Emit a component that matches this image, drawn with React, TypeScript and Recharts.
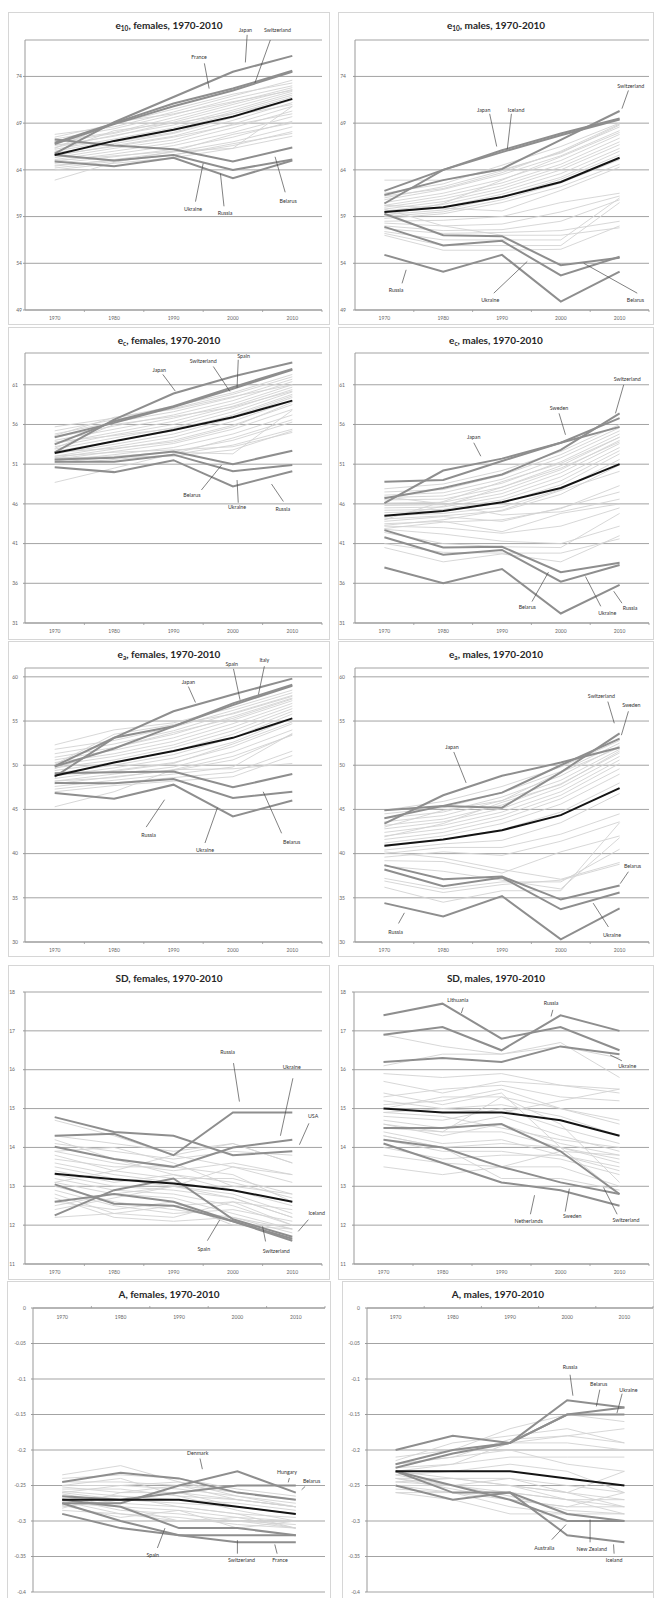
import React from "react";
import {
  LineChart,
  Line,
  XAxis,
  YAxis,
  CartesianGrid,
  ReferenceLine,
  ReferenceDot,
} from "recharts";

const FONT = "Lato, 'Open Sans', sans-serif";

const years = [1970, 1980, 1990, 2000, 2010];

// ---------- e10, females
const e10FTicks = [49, 54, 59, 64, 69, 74];
const e10FMean = [65.6, 67.1, 68.3, 69.7, 71.6];
const e10FMarked = [
  { name: "Japan", values: [65.75, 69.1, 71.8, 74.5, 76.2] },
  { name: "Switzerland", values: [66.9, 69.0, 71.1, 72.7, 74.6] },
  { name: "France", values: [66.75, 68.9, 70.8, 72.5, 74.5] },
  { name: "Belarus", values: [67.25, 66.6, 66.2, 64.9, 66.4] },
  { name: "Ukraine", values: [65.6, 65.0, 65.6, 64.0, 65.1] },
  { name: "Russia", values: [64.9, 64.4, 65.3, 63.1, 65.0] },
];
const e10FOthers = [
  [67.8, 68.6, 70.2, 71.9, 73.6],
  [67.5, 68.9, 70.5, 72.1, 73.3],
  [67.3, 68.4, 69.9, 71.6, 73.0],
  [67.1, 68.0, 69.6, 71.2, 72.8],
  [66.9, 67.9, 69.3, 71.0, 72.6],
  [66.6, 67.6, 69.1, 70.7, 72.4],
  [66.4, 67.7, 68.8, 70.4, 72.2],
  [66.2, 67.3, 68.5, 70.2, 72.0],
  [66.0, 67.1, 68.3, 70.0, 71.8],
  [65.8, 66.8, 67.9, 69.6, 71.5],
  [65.5, 66.6, 67.6, 69.3, 71.2],
  [65.3, 66.3, 67.2, 68.9, 70.8],
  [65.1, 66.0, 66.9, 68.5, 70.3],
  [64.9, 65.7, 66.6, 68.0, 69.7],
  [64.7, 65.4, 66.2, 67.5, 69.2],
  [64.4, 65.1, 65.9, 67.0, 68.6],
  [64.2, 64.9, 65.6, 66.6, 68.1],
  [64.0, 64.7, 65.3, 66.3, 67.6],
  [62.9, 64.8, 66.0, 67.8, 69.0],
  [65.9, 68.2, 69.0, 70.0, 71.5],
  [66.3, 69.1, 70.0, 71.3, 72.5],
  [65.0, 65.5, 66.0, 66.3, 70.8],
  [64.5, 65.0, 65.6, 66.8, 67.9],
  [66.7, 67.0, 68.0, 69.8, 71.0],
  [65.6, 66.5, 67.5, 68.8, 70.0],
];
const e10FNotes = [
  { text: "France", at: [1994.3, 76.1], from: [1995.2, 75.4], to: [1996.0, 72.7] },
  { text: "Japan", at: [2002.1, 79.0], from: [2002.4, 78.45], to: [2002.1, 75.5] },
  { text: "Switzerland", at: [2007.5, 79.0], from: [2006.3, 77.9], to: [2003.7, 73.3] },
  { text: "Ukraine", at: [1993.3, 59.75], from: [1993.7, 60.6], to: [1995.0, 64.7] },
  { text: "Russia", at: [1998.7, 59.4], from: [1998.5, 60.1], to: [1997.9, 63.6] },
  { text: "Belarus", at: [2009.3, 60.65], from: [2008.8, 61.6], to: [2007.1, 65.4] },
];

// ---------- e10, males
const e10MTicks = [49, 54, 59, 64, 69, 74];
const e10MMean = [59.5, 60.0, 61.1, 62.7, 65.3];
const e10MMarked = [
  { name: "Japan", values: [61.75, 64.0, 66.1, 67.9, 69.5] },
  { name: "Switzerland", values: [61.3, 62.9, 64.1, 67.2, 70.3] },
  { name: "Iceland", values: [60.4, 64.0, 65.9, 67.7, 69.4] },
  { name: "Belarus", values: [59.3, 57.0, 56.9, 53.8, 54.6] },
  { name: "Ukraine", values: [57.9, 55.9, 56.4, 52.7, 54.7] },
  { name: "Russia", values: [54.9, 53.1, 54.9, 49.9, 53.1] },
];
const e10MOthers = [
  [62.9, 62.9, 64.0, 65.8, 68.8],
  [61.0, 62.2, 63.9, 65.9, 68.6],
  [60.8, 61.9, 63.5, 65.5, 68.2],
  [60.5, 61.5, 63.0, 65.0, 67.8],
  [60.2, 61.2, 62.6, 64.6, 67.4],
  [60.0, 60.9, 62.3, 64.3, 67.0],
  [59.8, 60.6, 62.0, 64.0, 66.7],
  [59.6, 60.3, 61.7, 63.6, 66.3],
  [59.4, 60.0, 61.4, 63.2, 66.0],
  [59.2, 59.7, 61.1, 63.0, 65.6],
  [59.0, 59.5, 60.8, 62.6, 65.1],
  [58.8, 59.3, 60.5, 62.2, 64.6],
  [60.2, 59.9, 59.6, 61.8, 64.3],
  [58.5, 58.6, 59.0, 60.5, 61.5],
  [58.3, 58.0, 58.2, 59.5, 61.2],
  [58.0, 57.5, 57.6, 58.5, 60.8],
  [57.7, 57.2, 57.3, 57.5, 58.5],
  [57.4, 56.5, 56.5, 56.5, 61.0],
  [57.2, 55.9, 55.9, 55.9, 60.5],
  [57.0, 55.4, 55.4, 55.5, 58.0],
  [59.8, 58.0, 57.0, 57.0, 57.8],
  [61.5, 62.5, 64.5, 66.5, 69.0],
  [61.2, 62.0, 63.7, 66.0, 68.9],
  [59.1, 60.4, 62.9, 65.4, 68.0],
];
const e10MNotes = [
  { text: "Switzerland", at: [2011.9, 73.0], from: [2011.5, 72.5], to: [2010.4, 70.55] },
  { text: "Japan", at: [1986.9, 70.4], from: [1987.9, 70.0], to: [1989.1, 66.5] },
  { text: "Iceland", at: [1992.4, 70.4], from: [1991.6, 70.0], to: [1990.9, 66.2] },
  { text: "Russia", at: [1972.0, 51.1], from: [1973.0, 51.85], to: [1973.7, 53.3] },
  { text: "Ukraine", at: [1988.0, 50.1], from: [1988.6, 50.8], to: [1994.3, 54.2] },
  { text: "Belarus", at: [2012.7, 50.1], from: [2013.0, 50.8], to: [2003.9, 54.0] },
];

// ---------- ec, females
const ecFTicks = [31, 36, 41, 46, 51, 56, 61];
const ecFMean = [52.4, 53.9, 55.3, 56.9, 59.0];
const ecFMarked = [
  { name: "Japan", values: [52.5, 56.6, 59.9, 62.05, 63.8] },
  { name: "Switzerland", values: [54.4, 56.2, 58.2, 60.5, 62.9] },
  { name: "Spain", values: [53.5, 56.4, 58.3, 60.7, 63.0] },
  { name: "Belarus", values: [51.6, 51.8, 52.6, 51.0, 52.7] },
  { name: "Ukraine", values: [51.3, 51.3, 52.2, 50.1, 50.9] },
  { name: "Russia", values: [50.6, 50.0, 51.5, 48.2, 50.1] },
];
const ecFOthers = [
  [55.7, 56.8, 58.3, 60.0, 62.3],
  [55.2, 56.6, 58.0, 59.8, 62.0],
  [54.8, 56.3, 57.6, 59.4, 61.7],
  [54.4, 55.8, 57.2, 59.0, 61.4],
  [54.0, 55.4, 56.8, 58.6, 61.0],
  [53.6, 55.0, 56.4, 58.3, 60.7],
  [53.2, 54.7, 56.0, 58.0, 60.4],
  [52.9, 54.3, 55.6, 57.6, 60.1],
  [52.6, 53.9, 55.2, 57.2, 59.8],
  [52.3, 53.5, 54.8, 56.8, 59.4],
  [52.0, 53.2, 54.4, 56.4, 59.0],
  [51.8, 52.9, 54.0, 55.9, 58.5],
  [51.6, 52.6, 53.6, 55.4, 57.9],
  [51.4, 52.2, 53.1, 54.8, 57.2],
  [51.2, 51.9, 52.6, 54.0, 56.3],
  [51.0, 51.6, 52.2, 53.4, 55.4],
  [51.5, 52.0, 52.5, 52.3, 57.8],
  [52.0, 52.5, 52.8, 53.2, 55.0],
  [48.7, 50.5, 52.3, 54.3, 56.6],
  [53.0, 56.0, 57.0, 58.2, 60.2],
  [52.5, 53.0, 53.8, 55.7, 58.8],
  [51.8, 51.9, 52.0, 52.8, 55.2],
  [53.8, 54.6, 55.5, 57.0, 59.6],
  [54.6, 56.9, 57.9, 59.5, 61.0],
];
const ecFNotes = [
  { text: "Japan", at: [1987.6, 62.9], from: [1988.2, 62.3], to: [1990.3, 60.2] },
  { text: "Switzerland", at: [1995.0, 64.0], from: [1996.7, 63.3], to: [1999.5, 60.15] },
  { text: "Spain", at: [2001.8, 64.65], from: [2000.9, 64.15], to: [2000.7, 60.6] },
  { text: "Belarus", at: [1993.1, 47.1], from: [1994.7, 47.75], to: [1998.1, 50.9] },
  { text: "Ukraine", at: [2000.7, 45.6], from: [2000.9, 46.15], to: [2000.7, 49.0] },
  { text: "Russia", at: [2008.4, 45.4], from: [2008.5, 46.3], to: [2006.5, 48.5] },
];

// ---------- ec, males
const ecMTicks = [31, 36, 41, 46, 51, 56, 61];
const ecMMean = [44.5, 45.1, 46.2, 48.0, 51.0];
const ecMMarked = [
  { name: "Japan", values: [46.1, 50.2, 51.7, 53.7, 56.8] },
  { name: "Sweden", values: [48.8, 49.0, 51.4, 53.7, 55.7] },
  { name: "Switzerland", values: [46.7, 48.0, 49.7, 52.8, 57.4] },
  { name: "Belarus", values: [42.7, 40.5, 40.6, 37.4, 38.6] },
  { name: "Ukraine", values: [41.8, 39.6, 40.2, 36.2, 38.3] },
  { name: "Russia", values: [38.0, 36.0, 37.8, 32.2, 35.8] },
];
const ecMOthers = [
  [47.9, 48.5, 50.2, 52.6, 56.0],
  [47.5, 47.8, 49.6, 52.2, 55.6],
  [47.1, 47.4, 49.1, 51.8, 55.2],
  [46.8, 47.0, 48.6, 51.3, 54.8],
  [46.5, 46.6, 48.1, 50.8, 54.4],
  [46.1, 46.2, 47.7, 50.3, 54.0],
  [45.8, 45.9, 47.3, 49.9, 53.6],
  [45.5, 45.6, 46.9, 49.4, 53.1],
  [45.2, 45.3, 46.5, 48.9, 52.7],
  [44.9, 45.1, 46.1, 48.4, 52.3],
  [44.5, 44.8, 45.6, 47.8, 51.6],
  [44.1, 44.5, 45.1, 47.2, 50.9],
  [43.8, 44.4, 43.8, 45.5, 47.5],
  [43.5, 43.8, 42.5, 44.8, 46.0],
  [43.2, 43.0, 42.3, 43.2, 45.5],
  [42.8, 42.2, 41.3, 41.0, 43.2],
  [42.4, 41.0, 40.6, 40.5, 44.8],
  [41.0, 39.9, 39.8, 39.8, 41.6],
  [40.5, 38.7, 39.7, 38.7, 42.0],
  [44.3, 45.7, 48.1, 50.5, 53.8],
  [44.0, 46.3, 48.8, 51.1, 54.4],
  [46.9, 46.0, 44.6, 45.0, 46.6],
  [43.3, 44.0, 45.2, 47.7, 50.1],
  [42.9, 43.7, 44.0, 45.4, 48.3],
];
const ecMNotes = [
  { text: "Switzerland", at: [2011.3, 61.7], from: [2010.7, 61.0], to: [2009.3, 57.4] },
  { text: "Sweden", at: [1999.7, 58.05], from: [1999.7, 57.4], to: [2000.8, 54.7] },
  { text: "Japan", at: [1985.2, 54.4], from: [1985.2, 53.7], to: [1986.4, 52.0] },
  { text: "Belarus", at: [1994.3, 33.0], from: [1995.1, 33.7], to: [1997.9, 37.4] },
  { text: "Ukraine", at: [2007.9, 32.3], from: [2006.8, 33.1], to: [2004.2, 36.85] },
  { text: "Russia", at: [2011.8, 32.9], from: [2010.4, 33.5], to: [2009.0, 35.0] },
];

// ---------- ea, females
const eaFTicks = [30, 35, 40, 45, 50, 55, 60];
const eaFMean = [48.8, 50.3, 51.6, 53.1, 55.3];
const eaFMarked = [
  { name: "Japan", values: [48.7, 53.1, 56.1, 58.0, 59.8] },
  { name: "Spain", values: [49.85, 51.9, 54.4, 56.8, 59.0] },
  { name: "Italy", values: [49.9, 53.1, 54.4, 57.0, 59.1] },
  { name: "Belarus", values: [49.1, 49.2, 49.3, 47.5, 49.0] },
  { name: "Ukraine", values: [48.0, 47.95, 48.45, 46.3, 47.0] },
  { name: "Russia", values: [46.85, 46.2, 47.8, 44.2, 46.0] },
];
const eaFOthers = [
  [52.3, 54.0, 54.8, 56.5, 58.5],
  [51.8, 52.8, 54.3, 56.2, 58.2],
  [51.3, 52.4, 53.9, 55.9, 57.9],
  [50.9, 52.0, 53.5, 55.5, 57.6],
  [50.6, 51.7, 53.1, 55.1, 57.3],
  [50.3, 51.3, 52.7, 54.7, 57.0],
  [50.0, 51.0, 52.3, 54.3, 56.7],
  [49.7, 50.6, 52.0, 53.9, 56.4],
  [49.4, 50.3, 51.6, 53.5, 56.1],
  [49.1, 50.0, 51.2, 53.1, 55.8],
  [48.8, 49.7, 50.8, 52.6, 55.3],
  [48.5, 49.4, 50.3, 52.1, 54.7],
  [48.2, 49.0, 49.8, 51.5, 54.0],
  [47.9, 48.7, 49.4, 50.6, 53.5],
  [47.6, 48.3, 49.0, 49.8, 53.6],
  [47.3, 48.0, 48.6, 49.2, 51.6],
  [47.0, 47.7, 48.2, 48.7, 51.1],
  [45.3, 47.0, 49.5, 51.0, 53.4],
  [48.2, 48.6, 49.5, 49.6, 50.2],
  [49.6, 52.0, 53.7, 55.3, 57.5],
  [48.9, 49.3, 50.2, 52.4, 54.9],
  [50.1, 53.5, 54.6, 55.8, 57.8],
];
const eaFNotes = [
  { text: "Japan", at: [1992.5, 59.4], from: [1992.5, 58.9], to: [1993.7, 57.1] },
  { text: "Spain", at: [1999.8, 61.4], from: [2000.1, 60.9], to: [2001.2, 57.4] },
  { text: "Italy", at: [2005.3, 61.85], from: [2005.3, 61.2], to: [2004.3, 58.0] },
  { text: "Russia", at: [1985.8, 42.1], from: [1985.4, 43.0], to: [1988.5, 46.1] },
  { text: "Ukraine", at: [1995.3, 40.4], from: [1995.3, 41.2], to: [1997.4, 45.2] },
  { text: "Belarus", at: [2009.9, 41.35], from: [2008.2, 42.3], to: [2005.1, 47.0] },
];

// ---------- ea, males
const eaMTicks = [30, 35, 40, 45, 50, 55, 60];
const eaMMean = [40.9, 41.6, 42.65, 44.35, 47.4];
const eaMMarked = [
  { name: "Japan", values: [43.4, 46.6, 48.8, 50.3, 52.0] },
  { name: "Sweden", values: [44.0, 45.4, 46.9, 50.0, 53.0] },
  { name: "Switzerland", values: [44.9, 45.4, 45.2, 49.2, 53.6] },
  { name: "Belarus", values: [38.7, 37.1, 37.4, 34.8, 36.4] },
  { name: "Ukraine", values: [38.2, 36.3, 37.3, 33.7, 35.6] },
  { name: "Russia", values: [34.4, 32.9, 35.2, 30.3, 33.8] },
];
const eaMOthers = [
  [44.9, 45.9, 47.6, 49.8, 52.8],
  [44.5, 45.2, 46.9, 49.3, 52.5],
  [44.0, 44.7, 46.4, 48.8, 52.2],
  [43.6, 44.3, 46.0, 48.3, 51.8],
  [43.2, 43.9, 45.5, 47.9, 51.4],
  [42.8, 43.6, 45.1, 47.5, 51.0],
  [42.4, 43.2, 44.7, 47.0, 50.6],
  [42.0, 42.8, 44.3, 46.6, 50.2],
  [41.6, 42.4, 43.9, 46.2, 49.6],
  [41.2, 42.0, 43.4, 45.6, 49.0],
  [40.8, 41.6, 42.7, 44.7, 48.0],
  [40.4, 41.1, 41.5, 43.5, 46.8],
  [40.0, 40.7, 40.7, 42.2, 44.5],
  [39.6, 40.2, 39.8, 41.4, 43.6],
  [39.2, 39.1, 37.8, 40.2, 42.0],
  [37.2, 36.0, 36.8, 36.8, 40.5],
  [36.9, 35.6, 36.5, 37.0, 38.8],
  [36.2, 34.5, 35.8, 35.8, 43.5],
  [40.2, 39.5, 38.2, 37.1, 39.0],
  [41.9, 43.4, 45.8, 47.8, 51.6],
  [43.0, 44.9, 46.0, 49.2, 52.0],
  [38.6, 38.0, 37.0, 36.0, 41.8],
];
const eaMNotes = [
  { text: "Switzerland", at: [2006.9, 57.8], from: [2008.0, 57.2], to: [2009.1, 54.75] },
  { text: "Sweden", at: [2012.0, 56.75], from: [2011.5, 56.1], to: [2010.3, 53.4] },
  { text: "Japan", at: [1981.5, 52.1], from: [1981.8, 51.5], to: [1983.9, 48.0] },
  { text: "Belarus", at: [2012.2, 38.6], from: [2011.5, 37.95], to: [2010.1, 36.6] },
  { text: "Ukraine", at: [2008.7, 30.8], from: [2008.1, 31.7], to: [2005.5, 34.4] },
  { text: "Russia", at: [1971.9, 31.1], from: [1972.4, 32.1], to: [1973.4, 33.3] },
];

// ---------- SD, females
const sdFTicks = [11, 12, 13, 14, 15, 16, 17, 18];
const sdFMean = [13.32, 13.18, 13.07, 12.9, 12.6];
const sdFMarked = [
  { name: "USA", values: [14.78, 14.4, 14.3, 13.8, 13.9] },
  { name: "Russia", values: [14.3, 14.35, 13.8, 14.9, 14.9] },
  { name: "Ukraine", values: [14.02, 13.7, 13.5, 14.0, 14.2] },
  { name: "Spain", values: [13.05, 12.55, 12.5, 12.1, 11.65] },
  { name: "Switzerland", values: [12.6, 12.8, 12.6, 12.1, 11.6] },
  { name: "Iceland", values: [12.25, 12.9, 13.2, 12.15, 11.7] },
];
const sdFOthers = [
  [14.7, 14.3, 13.8, 13.5, 13.1],
  [14.3, 14.1, 13.9, 14.1, 13.6],
  [14.1, 13.9, 13.7, 13.9, 13.8],
  [13.9, 13.6, 13.4, 13.6, 13.3],
  [13.8, 13.4, 13.2, 13.2, 12.8],
  [13.7, 13.5, 13.5, 13.3, 12.6],
  [13.6, 13.3, 13.1, 12.9, 12.5],
  [13.5, 13.2, 13.0, 12.8, 12.3],
  [13.4, 13.1, 13.3, 13.1, 12.7],
  [13.3, 13.0, 12.9, 12.7, 12.2],
  [13.2, 12.9, 12.8, 12.5, 12.0],
  [13.1, 12.8, 12.7, 12.3, 11.9],
  [13.0, 12.6, 12.4, 12.2, 11.9],
  [12.9, 12.5, 12.3, 12.4, 12.1],
  [12.8, 12.3, 12.2, 12.6, 12.0],
  [12.7, 12.2, 12.1, 12.2, 11.8],
  [12.6, 12.4, 12.6, 12.0, 11.9],
  [12.5, 12.8, 13.0, 12.7, 12.2],
  [12.4, 12.7, 13.0, 13.5, 13.3],
  [12.2, 12.3, 12.5, 12.6, 12.4],
  [13.9, 14.0, 13.6, 13.0, 12.8],
  [14.2, 13.7, 13.3, 12.9, 12.6],
  [13.1, 13.4, 13.8, 14.1, 13.6],
];
const sdFNotes = [
  { text: "Russia", at: [1999.1, 16.45], from: [2000.1, 16.17], to: [2001.1, 15.18] },
  { text: "Ukraine", at: [2009.9, 16.06], from: [2010.1, 15.78], to: [2008.0, 14.3] },
  { text: "USA", at: [2013.5, 14.8], from: [2012.8, 14.62], to: [2011.2, 14.07] },
  { text: "Iceland", at: [2014.1, 12.3], from: [2012.7, 12.14], to: [2011.0, 11.84] },
  { text: "Spain", at: [1995.1, 11.39], from: [1995.7, 11.6], to: [1997.8, 12.14] },
  { text: "Switzerland", at: [2007.3, 11.34], from: [2005.5, 11.58], to: [2005.0, 11.97] },
];

// ---------- SD, males
const sdMTicks = [11, 12, 13, 14, 15, 16, 17, 18];
const sdMMean = [15.0, 14.9, 14.9, 14.7, 14.3];
const sdMMarked = [
  { name: "Lithuania", values: [17.4, 17.7, 16.8, 17.1, 16.5] },
  { name: "Russia", values: [16.9, 17.1, 16.5, 17.4, 17.0] },
  { name: "Ukraine", values: [16.2, 16.3, 16.2, 16.6, 16.4] },
  { name: "Switzerland", values: [14.5, 14.5, 14.6, 13.9, 12.8] },
  { name: "Sweden", values: [14.2, 14.0, 13.5, 13.1, 12.8] },
  { name: "Netherlands", values: [14.1, 13.6, 13.1, 12.9, 12.5] },
];
const sdMOthers = [
  [16.9, 16.6, 16.4, 16.7, 15.8],
  [15.9, 15.8, 15.9, 15.6, 15.5],
  [15.7, 15.4, 15.7, 15.6, 15.4],
  [15.3, 15.5, 15.6, 15.3, 15.2],
  [15.1, 15.2, 15.5, 15.0, 14.7],
  [15.0, 15.3, 15.3, 15.0, 14.6],
  [14.9, 15.0, 15.1, 14.8, 14.3],
  [14.8, 14.7, 15.0, 14.5, 14.1],
  [14.7, 14.5, 14.8, 14.3, 13.9],
  [14.6, 14.3, 14.6, 14.1, 13.8],
  [14.5, 14.4, 14.4, 14.0, 13.6],
  [14.4, 14.1, 14.2, 13.8, 13.4],
  [14.3, 14.0, 14.1, 14.0, 13.7],
  [14.2, 13.9, 13.9, 13.7, 13.3],
  [14.0, 13.7, 13.8, 13.8, 13.5],
  [13.8, 13.6, 13.5, 13.5, 13.0],
  [13.5, 13.3, 13.5, 13.9, 13.8],
  [14.3, 14.0, 13.2, 13.2, 12.9],
  [15.4, 15.1, 15.4, 14.0, 12.8],
  [14.6, 14.4, 15.3, 14.6, 13.1],
  [15.2, 15.0, 14.9, 15.2, 15.5],
  [14.9, 14.8, 14.5, 14.2, 14.0],
  [16.1, 16.4, 16.4, 16.6, 16.3],
];
const sdMNotes = [
  { text: "Lithuania", at: [1982.6, 17.78], from: [1983.5, 17.6], to: [1983.2, 17.46] },
  { text: "Russia", at: [1998.4, 17.71], from: [1998.7, 17.54], to: [1998.4, 17.37] },
  { text: "Ukraine", at: [2011.3, 16.1], from: [2010.4, 16.23], to: [2008.4, 16.38] },
  { text: "Netherlands", at: [1994.6, 12.11], from: [1994.9, 12.28], to: [1995.6, 12.77] },
  { text: "Sweden", at: [2002.0, 12.22], from: [2000.8, 12.35], to: [2001.5, 12.94] },
  { text: "Switzerland", at: [2011.1, 12.12], from: [2009.6, 12.28], to: [2007.3, 12.97] },
];

// ---------- A, females
const aFTicks = [-0.4, -0.35, -0.3, -0.25, -0.2, -0.15, -0.1, -0.05, 0];
const aFMean = [-0.27, -0.27, -0.27, -0.28, -0.29];
const aFMarked = [
  { name: "Denmark", values: [-0.275, -0.275, -0.25, -0.23, -0.26] },
  { name: "Hungary", values: [-0.265, -0.27, -0.26, -0.25, -0.25] },
  { name: "Belarus", values: [-0.245, -0.232, -0.24, -0.26, -0.27] },
  { name: "Spain", values: [-0.27, -0.28, -0.31, -0.31, -0.32] },
  { name: "Switzerland", values: [-0.275, -0.3, -0.32, -0.32, -0.32] },
  { name: "France", values: [-0.29, -0.31, -0.32, -0.33, -0.33] },
];
const aFOthers = [
  [-0.235, -0.222, -0.245, -0.26, -0.27],
  [-0.24, -0.235, -0.24, -0.255, -0.265],
  [-0.245, -0.245, -0.25, -0.26, -0.27],
  [-0.25, -0.25, -0.255, -0.265, -0.275],
  [-0.252, -0.26, -0.26, -0.27, -0.28],
  [-0.255, -0.255, -0.265, -0.27, -0.28],
  [-0.258, -0.265, -0.27, -0.275, -0.285],
  [-0.26, -0.27, -0.275, -0.28, -0.29],
  [-0.262, -0.275, -0.28, -0.29, -0.295],
  [-0.265, -0.28, -0.285, -0.295, -0.3],
  [-0.268, -0.285, -0.29, -0.3, -0.305],
  [-0.27, -0.265, -0.28, -0.29, -0.31],
  [-0.272, -0.29, -0.295, -0.305, -0.31],
  [-0.275, -0.28, -0.3, -0.3, -0.31],
  [-0.278, -0.295, -0.285, -0.31, -0.3],
  [-0.28, -0.27, -0.26, -0.28, -0.29],
  [-0.282, -0.26, -0.25, -0.27, -0.28],
  [-0.285, -0.29, -0.3, -0.295, -0.31],
  [-0.25, -0.24, -0.265, -0.285, -0.3],
  [-0.26, -0.25, -0.245, -0.265, -0.28],
];
const aFNotes = [
  { text: "Denmark", at: [1993.2, -0.204], from: [1993.6, -0.212], to: [1994.0, -0.227] },
  { text: "Hungary", at: [2008.5, -0.2315], from: [2008.9, -0.2395], to: [2008.7, -0.2456] },
  { text: "Belarus", at: [2012.7, -0.244], from: [2011.6, -0.2513], to: [2011.0, -0.256] },
  { text: "Spain", at: [1985.5, -0.3475], from: [1986.3, -0.338], to: [1987.6, -0.31] },
  { text: "Switzerland", at: [2000.7, -0.3545], from: [2000.0, -0.346], to: [2000.0, -0.327] },
  { text: "France", at: [2007.3, -0.3545], from: [2006.8, -0.346], to: [2006.4, -0.333] },
];

// ---------- A, males
const aMTicks = [-0.4, -0.35, -0.3, -0.25, -0.2, -0.15, -0.1, -0.05, 0];
const aMMean = [-0.23, -0.23, -0.23, -0.24, -0.25];
const aMMarked = [
  { name: "Russia", values: [-0.2, -0.18, -0.19, -0.13, -0.14] },
  { name: "Belarus", values: [-0.22, -0.2, -0.19, -0.15, -0.14] },
  { name: "Ukraine", values: [-0.225, -0.205, -0.19, -0.15, -0.15] },
  { name: "Australia", values: [-0.23, -0.25, -0.27, -0.3, -0.3] },
  { name: "New Zealand", values: [-0.23, -0.26, -0.26, -0.29, -0.3] },
  { name: "Iceland", values: [-0.25, -0.27, -0.26, -0.32, -0.33] },
];
const aMOthers = [
  [-0.21, -0.2, -0.17, -0.15, -0.16],
  [-0.215, -0.19, -0.18, -0.17, -0.19],
  [-0.22, -0.21, -0.185, -0.18, -0.17],
  [-0.225, -0.22, -0.19, -0.19, -0.2],
  [-0.22, -0.21, -0.2, -0.22, -0.23],
  [-0.23, -0.22, -0.21, -0.21, -0.21],
  [-0.235, -0.23, -0.22, -0.23, -0.26],
  [-0.24, -0.24, -0.24, -0.25, -0.26],
  [-0.24, -0.25, -0.24, -0.26, -0.27],
  [-0.245, -0.24, -0.25, -0.26, -0.28],
  [-0.25, -0.25, -0.25, -0.27, -0.28],
  [-0.25, -0.26, -0.26, -0.27, -0.29],
  [-0.255, -0.26, -0.27, -0.28, -0.28],
  [-0.26, -0.26, -0.28, -0.29, -0.3],
  [-0.26, -0.27, -0.29, -0.29, -0.29],
  [-0.23, -0.24, -0.25, -0.26, -0.23],
  [-0.235, -0.25, -0.26, -0.27, -0.27],
  [-0.24, -0.255, -0.27, -0.28, -0.26],
  [-0.245, -0.25, -0.265, -0.285, -0.29],
  [-0.22, -0.2, -0.19, -0.18, -0.19],
];
const aMNotes = [
  { text: "Russia", at: [2000.5, -0.0836], from: [2000.5, -0.094], to: [2001.0, -0.1235] },
  { text: "Belarus", at: [2005.5, -0.1066], from: [2005.7, -0.115], to: [2005.1, -0.1386] },
  { text: "Ukraine", at: [2010.7, -0.115], from: [2009.6, -0.1207], to: [2008.7, -0.148] },
  { text: "Australia", at: [1996.0, -0.338], from: [1997.3, -0.3263], to: [1999.8, -0.305] },
  { text: "New Zealand", at: [2004.3, -0.3395], from: [2004.0, -0.33], to: [2004.0, -0.298] },
  { text: "Iceland", at: [2008.2, -0.3555], from: [2008.2, -0.346], to: [2008.1, -0.333] },
];

// layout: frame = [x, y, w, h] on the page, plot = [x, y, w, h] of the plotting area
const panels = [
  { title: ["e", "10", ", females, 1970-2010"], ticks: e10FTicks, domain: [49, 77.9], mean: e10FMean, marked: e10FMarked, others: e10FOthers, notes: e10FNotes, frame: [8, 12, 322, 313], plot: [25, 40, 297, 270], gap: 3 },
  { title: ["e", "10", ", males, 1970-2010"], ticks: e10MTicks, domain: [49, 77.9], mean: e10MMean, marked: e10MMarked, others: e10MOthers, notes: e10MNotes, frame: [338, 12, 316, 313], plot: [355, 40, 294, 270], gap: 9 },
  { title: ["e", "c", ", females, 1970-2010"], ticks: ecFTicks, domain: [31, 65], mean: ecFMean, marked: ecFMarked, others: ecFOthers, notes: ecFNotes, frame: [8, 327, 322, 313], plot: [25, 353, 297, 270], gap: 7 },
  { title: ["e", "c", ", males, 1970-2010"], ticks: ecMTicks, domain: [31, 65], mean: ecMMean, marked: ecMMarked, others: ecMOthers, notes: ecMNotes, frame: [338, 327, 316, 313], plot: [355, 353, 294, 270], gap: 10 },
  { title: ["e", "a", ", females, 1970-2010"], ticks: eaFTicks, domain: [30, 61], mean: eaFMean, marked: eaFMarked, others: eaFOthers, notes: eaFNotes, frame: [8, 641, 322, 316], plot: [25, 668, 297, 274], gap: 7 },
  { title: ["e", "a", ", males, 1970-2010"], ticks: eaMTicks, domain: [30, 61], mean: eaMMean, marked: eaMMarked, others: eaMOthers, notes: eaMNotes, frame: [338, 641, 316, 316], plot: [355, 668, 294, 274], gap: 10 },
  { title: ["SD, females, 1970-2010"], ticks: sdFTicks, domain: [11, 18], mean: sdFMean, marked: sdFMarked, others: sdFOthers, notes: sdFNotes, frame: [8, 965, 322, 315], plot: [25, 992, 297, 272], gap: 10 },
  { title: ["SD, males, 1970-2010"], ticks: sdMTicks, domain: [11, 18], mean: sdMMean, marked: sdMMarked, others: sdMOthers, notes: sdMNotes, frame: [338, 965, 316, 315], plot: [354, 992, 295, 272], gap: 8 },
  { title: ["A, females, 1970-2010"], ticks: aFTicks, domain: [-0.4, 0], mean: aFMean, marked: aFMarked, others: aFOthers, notes: aFNotes, frame: [7, 1281, 324, 330], plot: [33, 1308, 292, 284], gap: 7, axisTop: true },
  { title: ["A, males, 1970-2010"], ticks: aMTicks, domain: [-0.4, 0], mean: aMMean, marked: aMMarked, others: aMOthers, notes: aMNotes, frame: [342, 1281, 312, 330], plot: [367, 1308, 286, 284], gap: 7, axisTop: true },
];

const makeXTick = (half: number, top: boolean) => (props: any) => {
  const { x, y, payload } = props;
  return (
    <g>
      <text x={x} y={top ? y + 11 : y + 10} textAnchor="middle" fontSize={5} fill="#666" fontFamily={FONT}>
        {payload.value}
      </text>
      <line x1={x + half} x2={x + half} y1={y} y2={top ? y - 2 : y + 2} stroke="#999" strokeWidth={0.8} />
    </g>
  );
};

function Panel({ p }: { p: any }) {
  const [fx, fy, fw, fh] = p.frame;
  const [px, py, pw, ph] = p.plot;
  const top = !!p.axisTop;
  const xh = 12;
  const margin = {
    top: py - fy - (top ? 1 : 0),
    right: fx + fw - (px + pw),
    left: 0,
    bottom: top ? fy + fh - (py + ph) : fy + fh - (py + ph) - xh,
  };
  const rows = years.map((year, i) => {
    const row: any = { year, mean: p.mean[i] };
    p.marked.forEach((m: any, k: number) => (row["m" + k] = m.values[i]));
    p.others.forEach((o: number[], k: number) => (row["o" + k] = o[i]));
    return row;
  });

  return (
    <>
      <div
        style={{
          position: "absolute",
          left: fx,
          top: fy,
          width: fw,
          height: fh,
          boxSizing: "border-box",
          border: "1px solid #d6d6d6",
        }}
      />
      <div style={{ position: "absolute", left: fx, top: fy }}>
        <LineChart width={fw} height={fh} data={rows} margin={margin}>
          <CartesianGrid horizontal vertical={false} stroke="#a3a3a3" strokeWidth={1} />
          <XAxis
            type="number"
            dataKey="year"
            domain={[1965, 2015]}
            ticks={years}
            interval={0}
            orientation={top ? "top" : "bottom"}
            height={top ? 1 : xh}
            tickLine={false}
            tickSize={0}
            tickMargin={0}
            axisLine={{ stroke: "#999" }}
            tick={makeXTick(pw / 10, top)}
            allowDataOverflow
          />
          <YAxis
            type="number"
            domain={p.domain}
            ticks={p.ticks}
            interval={0}
            width={px - fx}
            tickSize={2}
            tickMargin={Math.max(p.gap - 2, 0)}
            axisLine={{ stroke: "#999" }}
            tickLine={{ stroke: "#999" }}
            tick={{ fontSize: 5, fill: "#666", fontFamily: FONT }}
            allowDataOverflow
          />
          {p.others.map((_: any, k: number) => (
            <Line
              key={"o" + k}
              type="linear"
              dataKey={"o" + k}
              stroke="#d2d2d2"
              strokeWidth={0.9}
              dot={false}
              activeDot={false}
              isAnimationActive={false}
            />
          ))}
          {p.marked.map((m: any, k: number) => (
            <Line
              key={"m" + k}
              type="linear"
              dataKey={"m" + k}
              name={m.name}
              stroke="#8e8e8e"
              strokeWidth={2}
              dot={false}
              activeDot={false}
              isAnimationActive={false}
            />
          ))}
          <Line
            type="linear"
            dataKey="mean"
            stroke="#141414"
            strokeWidth={2}
            dot={false}
            activeDot={false}
            isAnimationActive={false}
          />
          {p.notes.map((n: any, k: number) => (
            <ReferenceLine
              key={"l" + k}
              segment={[
                { x: n.from[0], y: n.from[1] },
                { x: n.to[0], y: n.to[1] },
              ]}
              stroke="#4a4a4a"
              strokeWidth={0.7}
              ifOverflow="visible"
            />
          ))}
          {p.notes.map((n: any, k: number) => (
            <ReferenceDot
              key={"t" + k}
              x={n.at[0]}
              y={n.at[1]}
              r={0}
              fill="none"
              stroke="none"
              ifOverflow="visible"
              label={{ value: n.text, position: "center", fontSize: 5.3, fill: "#333", fontFamily: FONT }}
            />
          ))}
        </LineChart>
      </div>
      <div
        style={{
          position: "absolute",
          left: fx,
          top: fy + 7,
          width: fw,
          textAlign: "center",
          fontFamily: FONT,
          fontWeight: 700,
          fontSize: 10,
          lineHeight: "12px",
          color: "#262626",
          whiteSpace: "nowrap",
        }}
      >
        {p.title[0]}
        {p.title[1] && (
          <span style={{ fontSize: 6.5, position: "relative", top: 2 }}>{p.title[1]}</span>
        )}
        {p.title[2]}
      </div>
    </>
  );
}

export default function App() {
  return (
    <div style={{ position: "absolute", left: 0, top: 0, width: 654, height: 1598, background: "#fff", overflow: "hidden" }}>
      {panels.map((p, i) => (
        <Panel key={i} p={p} />
      ))}
    </div>
  );
}
